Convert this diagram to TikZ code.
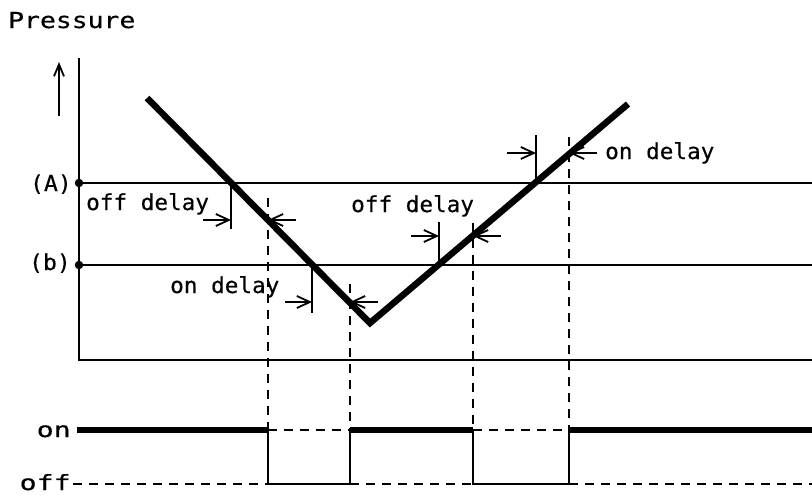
\documentclass[tikz,border=0pt]{standalone}
\usepackage{fontspec}
\usetikzlibrary{arrows.meta}
\newfontfamily\labfont[FakeStretch=1.03,FakeBold=0.4]{DejaVu Sans Mono}
\newfontfamily\presfont[FakeStretch=1.2,FakeBold=0.4]{DejaVu Sans Mono}
\newfontfamily\levfont[FakeStretch=1.05,FakeBold=0.4]{DejaVu Sans Mono}
\newfontfamily\sigfont[FakeStretch=1.35,FakeBold=0.4]{DejaVu Sans Mono}
\begin{document}
\begin{tikzpicture}[x=1pt,y=-1pt,
  thin/.style={line width=2.2pt},
  curve/.style={line width=6.5pt},
  sigline/.style={line width=6pt},
  dsh/.style={line width=1.8pt, dash pattern=on 9pt off 7pt},
  dimarrow/.style={line width=1.8pt, -{Straight Barb[length=13pt,width=12pt,line width=1.8pt]}},
  tick/.style={line width=1.8pt},
  lbl/.style={inner sep=0pt, anchor=base west, font=\labfont\fontsize{22}{22}\selectfont},
  lev/.style={inner sep=0pt, anchor=base east, font=\levfont\fontsize{22}{22}\selectfont},
  sig/.style={inner sep=0pt, anchor=base east, font=\sigfont\fontsize{21}{21}\selectfont},
  dot/.style={circle, fill, inner sep=0pt, minimum size=8.5pt}
]
\useasboundingbox (0,0) rectangle (812,496);

% title and axis arrow
\node[inner sep=0pt, anchor=base west, font=\presfont\fontsize{22}{22}\selectfont] (pres) at (8,28) {Pressure};
\coordinate (upS) at (59,116);
\coordinate (upE) at (59,62);
\draw[line width=1.8pt, -{Straight Barb[length=12pt,width=10pt,line width=1.8pt]}] (upS) -- (upE);

% axes
\coordinate (yTop) at (79,58);
\coordinate (orig) at (79,360);
\coordinate (xEnd) at (812,360);
\draw[line width=2.8pt] (yTop) -- (orig) -- (xEnd);

% levels
\node[dot] (dA) at (79,183) {};
\node[dot] (dB) at (79,265) {};
\coordinate (AEnd) at (812,183);
\coordinate (BEnd) at (812,265);
\draw[thin] (dA.center) -- (AEnd);
\draw[thin] (dB.center) -- (BEnd);
\node[lev] (lA) at (72,191) {(A)};
\node[lev] (lB) at (71,270) {(b)};

% pressure curve
\coordinate (c0) at (147,98);
\coordinate (c1) at (370,323);
\coordinate (c2) at (628,104);
\draw[curve] (c0) -- (c1) -- (c2);

% solid ticks at crossings
\coordinate (t1a) at (231,183); \coordinate (t1b) at (231,229);
\coordinate (t2a) at (312,265); \coordinate (t2b) at (312,313);
\coordinate (t3a) at (439,222); \coordinate (t3b) at (439,265);
\coordinate (t4a) at (536,135); \coordinate (t4b) at (536,183);
\draw[tick] (t1a) -- (t1b);
\draw[tick] (t2a) -- (t2b);
\draw[tick] (t3a) -- (t3b);
\draw[tick] (t4a) -- (t4b);

% dashed verticals and switching edges
\coordinate (v1t) at (268,198); \coordinate (v1m) at (268,430); \coordinate (v1b) at (268,484);
\coordinate (v2t) at (350,284); \coordinate (v2m) at (350,430); \coordinate (v2b) at (350,484);
\coordinate (v3t) at (473,223); \coordinate (v3m) at (473,430); \coordinate (v3b) at (473,484);
\coordinate (v4t) at (569,137); \coordinate (v4m) at (569,430); \coordinate (v4b) at (569,484);
\draw[dsh] (v1t) -- (v1m);
\draw[dsh] (v2t) -- (v2m);
\draw[dsh] (v3t) -- (v3m);
\draw[dsh] (v4t) -- (v4m);

% dimension arrows
\coordinate (a1s) at (203,220); \coordinate (a1e) at (231,220);
\coordinate (a2s) at (296,220); \coordinate (a2e) at (268,220);
\coordinate (a3s) at (285,302); \coordinate (a3e) at (312,302);
\coordinate (a4s) at (378,302); \coordinate (a4e) at (350,302);
\coordinate (a5s) at (411,236); \coordinate (a5e) at (439,236);
\coordinate (a6s) at (501,236); \coordinate (a6e) at (473,236);
\coordinate (a7s) at (507,153); \coordinate (a7e) at (536,153);
\coordinate (a8s) at (597,153); \coordinate (a8e) at (569,153);
\draw[dimarrow] (a1s) -- (a1e);
\draw[dimarrow] (a2s) -- (a2e);
\draw[dimarrow] (a3s) -- (a3e);
\draw[dimarrow] (a4s) -- (a4e);
\draw[dimarrow] (a5s) -- (a5e);
\draw[dimarrow] (a6s) -- (a6e);
\draw[dimarrow] (a7s) -- (a7e);
\draw[dimarrow] (a8s) -- (a8e);

% delay labels
\node[lbl] (off1) at (86,210) {off delay};
\node[lbl] (on1) at (170,293) {on delay};
\node[lbl] (off2) at (351,212) {off delay};
\node[lbl] (on2) at (605,159) {on delay};

% output signal
\node[sig] (lon) at (71,437) {on};
\node[sig] (loff) at (71,490) {off};
\coordinate (onS) at (77,430);
\coordinate (onE) at (812,430);
\coordinate (offS) at (73,484);
\coordinate (offE) at (812,484);
\draw[sigline] (onS) -- (v1m);
\draw[dsh] (v1m) -- (v2m);
\draw[sigline] (v2m) -- (v3m);
\draw[dsh] (v3m) -- (v4m);
\draw[sigline] (v4m) -- (onE);
\draw[dsh] (offS) -- (v1b);
\draw[thin] (v1m) -- (v1b) -- (v2b) -- (v2m);
\draw[dsh] (v2b) -- (v3b);
\draw[thin] (v3m) -- (v3b) -- (v4b) -- (v4m);
\draw[dsh] (v4b) -- (offE);
\end{tikzpicture}
\end{document}
